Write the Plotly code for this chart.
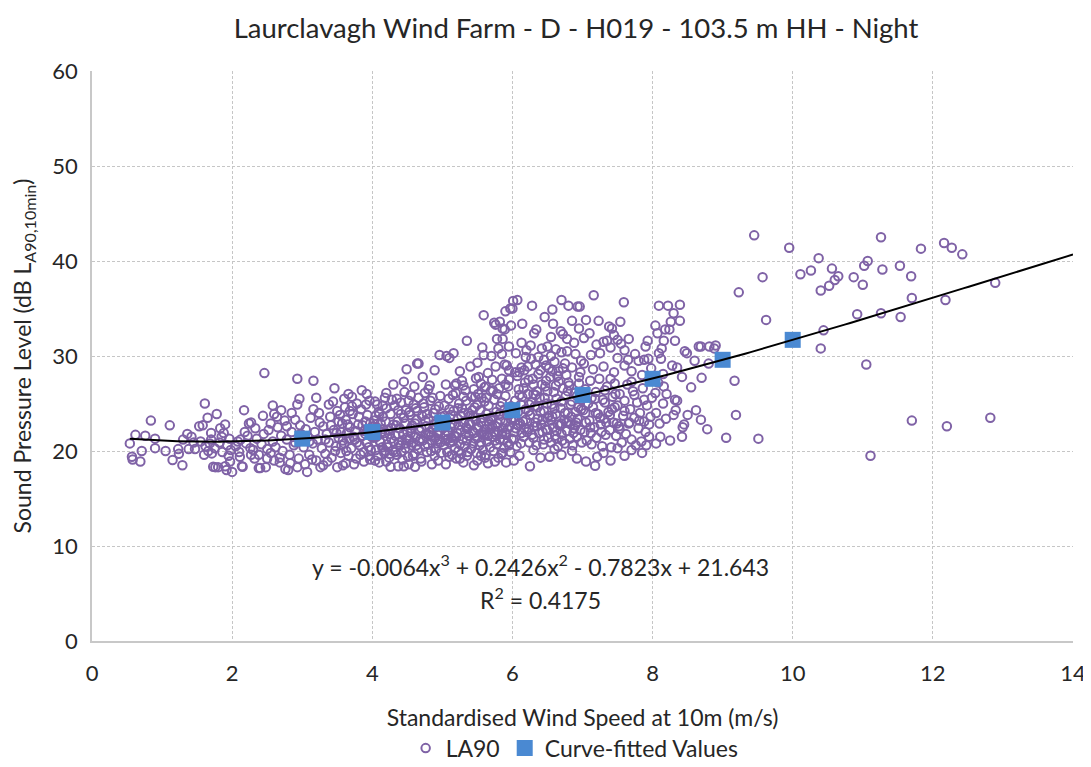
import plotly.graph_objects as go

# ---------------- data ----------------
band_0_2 = [(0.54,20.8),(0.57,19.4),(0.58,19.1),(0.62,21.7),(0.69,18.9),(0.71,20.0),(0.76,21.6),(0.84,23.2),
    (0.9,21.3),(0.9,20.3),(1.11,22.7),(1.15,19.05),(1.23,20.2),(1.24,19.7),(1.29,18.5),(1.36,21.8),(1.38,20.2),
    (1.42,21.5),(1.47,20.2),(1.53,22.6),(1.58,22.7),(1.61,25.0),(1.65,23.5),(1.7,21.9),(1.71,19.75),(1.73,18.35),
    (1.76,18.3),(1.78,23.9),(1.8,18.3),(1.83,22.4),(1.88,21.9),(1.9,18.4),(1.92,18.0),(1.97,18.9),(1.55,21.0),
    (1.62,20.5),(1.68,20.8),(1.75,20.3),(1.82,20.9),(1.86,19.9),(1.93,20.6),(1.96,21.3),(1.6,19.6),(1.45,20.9),
    (1.3,21.2),(1.05,20.0),(1.7,21.2),(1.85,21.5),(1.95,19.5),(1.9,22.8),(1.98,20.1),(1.66,20.0)]

band_2_3 = [(2.0,17.8),(2.11,19.4),(2.12,21.2),(2.14,18.4),(2.17,24.3),(2.24,22.9),(2.27,23.0),(2.26,20.3),
    (2.27,19.6),(2.33,22.4),(2.38,19.6),(2.38,18.2),(2.15,18.35),(2.4,18.2),(2.46,28.2),(2.44,23.7),(2.48,18.3),
    (2.58,24.8),(2.6,23.9),(2.64,23.6),(2.76,18.1),(2.8,18.0),(2.93,18.3),(2.93,27.6),(2.96,25.5),(2.93,24.9),
    (2.05,20.5),(2.08,21.0),(2.2,20.8),(2.22,21.6),(2.3,20.1),(2.35,21.3),(2.42,20.7),(2.45,21.8),(2.5,20.2),
    (2.52,22.2),(2.55,19.8),(2.58,21.0),(2.62,20.4),(2.65,22.5),(2.68,19.3),(2.7,21.6),(2.72,20.0),(2.75,23.2),
    (2.78,21.2),(2.82,19.6),(2.85,22.0),(2.88,20.6),(2.9,23.3),(2.95,19.2),(2.98,21.8),(2.1,19.9),(2.32,19.2),
    (2.55,22.9),(2.7,24.3),(2.85,24.0),(2.6,19.0),(2.78,22.6),(2.9,20.9),(2.18,22.0),(2.5,19.2),(2.68,18.8),
    (2.83,18.7),(2.97,22.7)]

band_3_4 = [(3.07,17.8),(3.16,27.4),(3.16,24.4),(3.26,18.3),(3.3,18.5),(3.38,24.9),(3.46,26.6),(3.5,18.3),
    (3.62,18.7),(3.66,26.0),(3.71,25.7),(3.71,24.7),(3.88,18.9),(3.93,23.8),(3.97,19.1),(3.02,20.4),(3.05,22.3),
    (3.08,21.5),(3.1,19.6),(3.12,23.5),(3.15,20.8),(3.18,22.0),(3.2,19.0),(3.22,21.2),(3.25,23.0),(3.28,20.3),
    (3.3,22.6),(3.33,19.7),(3.35,21.8),(3.38,20.9),(3.4,23.6),(3.42,19.3),(3.45,22.2),(3.48,20.5),(3.5,24.2),
    (3.52,21.4),(3.55,19.8),(3.57,22.9),(3.6,20.8),(3.62,23.3),(3.64,21.9),(3.66,19.5),(3.68,22.5),(3.7,20.3),
    (3.72,23.9),(3.75,21.2),(3.77,19.2),(3.8,22.8),(3.82,20.6),(3.84,24.4),(3.86,21.6),(3.88,19.9),(3.9,23.1),
    (3.92,20.9),(3.94,22.3),(3.96,25.3),(3.98,20.1),(3.04,18.6),(3.14,19.1),(3.24,24.0),(3.36,18.9),(3.44,25.2),
    (3.54,23.8),(3.58,18.5),(3.68,24.2),(3.74,18.6),(3.78,25.0),(3.86,22.7),(3.92,26.0),(3.99,21.5),(3.2,25.6),
    (3.6,25.5),(3.85,26.4),(3.1,21.0),(3.33,21.2),(3.47,20.0),(3.63,20.0),(3.78,20.9),(3.9,21.8),(3.96,19.5),
    (3.55,22.0)]

band_4_5 = [(4.04,25.2),(4.3,27.0),(4.45,27.3),(4.49,28.6),(4.6,26.8),(4.64,29.2),(4.66,29.2),(4.89,28.5),
    (4.96,30.1),(4.72,27.8),(4.8,26.5),(4.55,25.9),(4.2,26.1),(4.35,25.5),(4.15,24.8),(4.26,18.35),(4.37,18.4),
    (4.45,18.4),(4.61,18.35),(4.94,19.0),(4.1,18.8),(4.52,18.6),(4.7,18.9),(4.85,18.6),(4.2,18.9),
    (4.02,21.4),(4.03,23.2),(4.05,20.1),(4.06,22.5),(4.08,19.5),(4.09,24.1),(4.11,21.0),(4.12,22.9),(4.14,20.4),
    (4.15,23.6),(4.17,19.8),(4.18,21.9),(4.2,24.5),(4.21,20.7),(4.23,22.2),(4.24,19.3),(4.26,23.9),(4.27,21.3),
    (4.29,20.0),(4.3,22.8),(4.32,24.8),(4.33,21.6),(4.35,19.6),(4.36,23.1),(4.38,20.9),(4.39,22.4),(4.41,25.1),
    (4.42,19.9),(4.44,21.8),(4.45,23.5),(4.47,20.3),(4.48,24.3),(4.5,22.0),(4.51,19.4),(4.53,21.2),(4.54,23.8),
    (4.56,20.6),(4.57,22.7),(4.59,24.9),(4.6,19.7),(4.62,21.5),(4.63,23.3),(4.65,20.2),(4.66,25.6),(4.68,22.1),
    (4.69,19.2),(4.71,23.7),(4.72,21.1),(4.74,24.6),(4.75,20.5),(4.77,22.6),(4.78,19.9),(4.8,23.4),(4.81,21.7),
    (4.83,25.3),(4.84,20.0),(4.86,22.3),(4.87,24.0),(4.89,19.5),(4.9,21.4),(4.92,23.0),(4.93,20.8),(4.95,24.7),
    (4.96,22.0),(4.98,19.8),(4.99,23.6),(4.04,19.0),(4.13,22.0),(4.22,20.4),(4.31,21.0),(4.4,20.6),(4.49,21.4),
    (4.58,20.9),(4.67,21.0),(4.76,21.8),(4.85,21.1),(4.94,21.9),(4.07,24.9),(4.28,25.4),(4.46,26.2),(4.64,24.2),
    (4.82,26.9),(4.97,25.8),(4.19,20.0),(4.43,19.1),(4.61,22.9),(4.79,20.7),(4.88,22.8)]

band_5_6 = [(5.16,30.3),(5.35,31.6),(5.59,34.3),(5.57,30.9),(5.59,30.1),(5.5,29.3),(5.48,27.65),(5.76,33.3),
    (5.74,33.5),(5.82,33.6),(5.86,32.9),(5.89,32.8),(5.9,34.7),(5.78,31.8),(5.86,31.8),(5.8,30.8),(5.85,30.2),
    (5.76,28.9),(5.89,29.1),(5.92,29.0),(5.9,27.0),(5.71,27.5),(5.3,25.7),(5.06,30.0),(5.1,29.8),(5.25,28.4),
    (5.4,28.9),(5.65,28.2),(5.95,28.5),(5.98,33.2),(5.62,26.8),(5.05,27.0),(5.2,27.1),(5.45,26.5),(5.55,27.1),
    (5.7,30.0),(5.95,31.0),(5.97,35.0),(5.2,19.2),(5.61,19.3),(5.91,18.8),(5.05,18.6),(5.3,18.8),(5.45,18.5),
    (5.75,18.9),(5.35,19.5),(5.5,19.0),(5.8,19.3),(5.1,19.4),(5.65,18.7),
    (5.01,22.4),(5.02,20.6),(5.03,24.8),(5.04,21.7),(5.06,23.3),(5.07,19.9),(5.08,22.0),(5.09,25.5),(5.11,20.9),
    (5.12,23.8),(5.13,21.4),(5.14,19.6),(5.16,24.2),(5.17,22.7),(5.18,20.3),(5.19,26.1),(5.21,21.9),(5.22,23.4),
    (5.23,20.0),(5.24,25.0),(5.26,22.2),(5.27,19.7),(5.28,24.5),(5.29,21.2),(5.31,23.0),(5.32,20.5),(5.33,26.4),
    (5.34,22.5),(5.36,19.9),(5.37,24.0),(5.38,21.6),(5.39,23.7),(5.41,20.2),(5.42,25.7),(5.43,22.1),(5.44,20.8),
    (5.46,24.6),(5.47,21.3),(5.48,23.2),(5.49,19.8),(5.51,26.0),(5.52,22.6),(5.53,20.6),(5.54,24.3),(5.56,21.8),
    (5.57,23.5),(5.58,20.1),(5.6,25.2),(5.61,22.3),(5.62,19.6),(5.63,23.9),(5.64,21.0),(5.66,24.8),(5.67,22.8),
    (5.68,20.4),(5.69,26.3),(5.71,21.5),(5.72,23.6),(5.73,20.0),(5.74,25.4),(5.75,22.0),(5.77,24.1),(5.78,20.7),
    (5.79,22.9),(5.81,26.6),(5.82,21.2),(5.83,23.3),(5.84,19.7),(5.85,25.1),(5.87,22.4),(5.88,20.3),(5.89,24.4),
    (5.91,21.7),(5.92,23.8),(5.93,20.9),(5.94,26.8),(5.96,22.6),(5.97,19.9),(5.98,24.7),(5.99,21.3),
    (5.05,21.1),(5.15,21.0),(5.25,20.7),(5.35,21.1),(5.45,21.9),(5.55,20.9),(5.65,21.6),(5.75,21.1),(5.85,21.8),
    (5.95,20.6),(5.12,22.5),(5.4,22.8),(5.58,22.0),(5.8,22.1),(5.22,24.5),(5.5,24.9),(5.7,23.2),(5.9,23.0),
    (5.3,26.9),(5.6,26.7),(5.85,27.6),(5.18,26.9),(5.95,27.5)]

band_6_7 = [(6.0,35.0),(6.01,35.8),(6.07,35.9),(6.14,33.4),(6.13,31.4),(6.28,35.3),(6.46,34.1),(6.57,34.9),
    (6.7,35.9),(6.8,35.3),(6.93,35.2),(6.96,35.2),(6.31,32.4),(6.34,32.8),(6.26,31.1),(6.55,32.0),(6.5,31.0),
    (6.69,32.6),(6.72,32.3),(6.78,31.8),(6.95,32.9),(6.62,30.7),(6.78,30.5),(6.19,29.9),(6.27,29.7),(6.37,29.9),
    (6.33,29.1),(6.13,28.8),(6.04,28.3),(6.1,28.3),(6.23,27.5),(6.4,28.5),(6.45,29.6),(6.52,28.7),(6.6,29.4),
    (6.66,28.4),(6.75,29.2),(6.85,28.8),(6.9,30.2),(6.98,29.5),(6.88,31.4),(6.42,30.8),(6.2,30.6),(6.05,30.3),
    (6.58,33.4),(6.85,33.7),(6.64,27.9),(6.48,27.4),(6.8,27.2),(6.3,27.0),(6.95,27.8),(6.55,30.0),(6.7,30.4),
    (6.25,18.4),(6.53,19.4),(6.92,19.2),(6.1,19.5),(6.4,19.3),(6.7,19.6),(6.85,20.0),(6.6,20.2),(6.02,19.0),
    (6.3,20.1),
    (6.01,23.5),(6.02,21.2),(6.04,25.3),(6.05,22.4),(6.06,20.5),(6.08,24.1),(6.09,26.5),(6.11,22.9),(6.12,20.8),
    (6.14,25.7),(6.15,23.1),(6.16,21.5),(6.18,27.2),(6.19,24.4),(6.21,22.0),(6.22,26.0),(6.24,20.9),(6.25,23.8),
    (6.27,25.1),(6.28,21.7),(6.29,27.6),(6.31,22.6),(6.32,24.7),(6.34,20.6),(6.35,26.3),(6.36,23.4),(6.38,21.9),
    (6.39,25.6),(6.41,22.8),(6.42,27.0),(6.44,20.7),(6.45,24.2),(6.47,26.8),(6.48,22.3),(6.49,25.0),(6.51,21.4),
    (6.52,23.7),(6.54,27.8),(6.55,20.9),(6.56,24.9),(6.58,22.5),(6.59,26.2),(6.61,21.6),(6.62,23.9),(6.63,25.5),
    (6.65,20.5),(6.66,27.3),(6.68,22.7),(6.69,24.5),(6.71,21.1),(6.72,26.6),(6.74,23.3),(6.75,20.8),(6.76,25.8),
    (6.78,22.1),(6.79,24.0),(6.81,26.9),(6.82,21.3),(6.84,23.6),(6.85,25.2),(6.86,20.6),(6.88,22.4),(6.89,26.1),
    (6.91,23.0),(6.92,21.5),(6.94,24.6),(6.95,27.1),(6.97,22.2),(6.98,25.4),(6.99,20.9),
    (6.07,27.9),(6.17,28.5),(6.37,28.1),(6.57,28.4),(6.77,28.0),(6.97,28.3),(6.12,24.9),(6.33,23.0),(6.5,23.5),
    (6.7,22.9),(6.9,24.1),(6.03,22.0),(6.23,22.3),(6.43,22.0),(6.63,22.1),(6.83,22.8)]

band_7_8 = [(7.16,36.4),(7.59,35.65),(7.54,33.6),(7.42,32.9),(7.38,33.1),(7.45,32.2),(7.23,33.7),(7.66,31.8),
    (7.5,31.7),(7.55,31.3),(7.6,30.6),(7.05,33.8),(7.1,32.4),(7.02,31.9),(7.2,31.2),(7.3,31.5),(7.35,31.6),
    (7.4,30.9),(7.12,30.1),(7.25,30.3),(7.5,29.8),(7.65,29.6),(7.8,29.5),(7.9,31.0),(7.93,31.6),(7.94,29.7),
    (7.88,29.6),(7.75,30.2),(7.6,29.0),(7.7,28.4),(7.45,28.3),(7.3,28.9),(7.15,28.6),(7.02,29.2),(7.85,28.0),
    (7.98,28.7),(7.21,19.4),(7.18,18.45),(7.5,20.3),(7.91,20.6),(7.3,19.8),(7.7,20.1),(7.05,18.9),(7.4,19.0),
    (7.6,19.5),(7.85,19.8),
    (7.01,24.3),(7.03,22.0),(7.04,26.5),(7.06,21.1),(7.08,25.0),(7.1,23.2),(7.11,27.4),(7.13,20.7),(7.15,24.6),
    (7.17,22.5),(7.19,26.2),(7.2,21.4),(7.22,23.9),(7.24,27.6),(7.26,22.8),(7.28,20.5),(7.29,25.4),(7.31,23.4),
    (7.33,21.7),(7.35,26.8),(7.37,24.1),(7.39,22.2),(7.41,20.4),(7.43,25.7),(7.44,23.0),(7.46,27.1),(7.48,21.6),
    (7.5,24.8),(7.52,22.6),(7.53,26.0),(7.56,20.9),(7.58,23.7),(7.6,25.3),(7.62,21.8),(7.64,27.0),(7.66,22.9),
    (7.68,24.4),(7.7,21.2),(7.72,26.3),(7.74,23.5),(7.76,20.6),(7.78,25.1),(7.8,22.4),(7.82,24.0),(7.84,21.0),
    (7.86,26.6),(7.88,23.1),(7.9,22.0),(7.92,24.8),(7.95,21.5),(7.97,23.6),(7.99,25.6)]

band_8_9 = [(8.09,35.3),(8.22,35.3),(8.39,35.4),(8.3,34.5),(8.26,33.6),(8.39,33.7),(8.04,33.2),(8.24,32.8),
    (8.18,32.8),(8.07,32.4),(8.16,31.6),(8.32,31.6),(8.13,30.8),(8.09,30.3),(8.49,30.3),(8.46,30.5),(8.66,31.0),
    (8.81,31.0),(8.88,30.8),(8.69,31.0),(8.8,29.2),(8.42,27.8),(8.7,27.7),(8.15,28.1),(8.16,26.8),(8.04,26.1),
    (8.32,25.4),(8.35,25.3),(8.15,25.0),(8.33,24.3),(8.5,23.8),(8.62,24.3),(8.69,23.3),(8.78,22.3),(8.43,22.5),
    (8.45,22.8),(8.42,21.5),(8.25,21.1),(8.11,21.5),(8.19,23.4),(8.1,22.9),(8.05,24.0),(8.2,26.0),(8.08,27.2),
    (8.28,29.0),(8.12,29.7),(8.05,20.8),(8.3,23.8),(8.55,26.7),(8.6,29.5),(8.35,28.8),(8.9,31.1)]

band_9_13 = [(9.05,21.4),(9.17,27.4),(9.19,23.8),(9.23,36.7),(9.45,42.7),(9.51,21.3),(9.57,38.3),(9.62,33.8),
    (9.95,41.4),(10.11,38.6),(10.26,39.0),(10.37,40.3),(10.4,36.9),(10.52,37.4),(10.56,39.2),(10.6,38.0),
    (10.65,38.4),(10.44,32.7),(10.4,30.8),(10.87,38.3),(11.02,39.5),(11.07,40.0),(11.0,37.5),(11.26,42.5),
    (11.28,39.1),(11.53,39.5),(11.69,38.4),(11.7,36.1),(10.92,34.4),(11.26,34.5),(11.54,34.1),(11.83,41.3),
    (12.16,41.9),(12.27,41.4),(12.42,40.7),(12.18,35.9),(12.89,37.7),(11.05,29.1),(11.7,23.2),(12.2,22.6),
    (12.82,23.5),(11.11,19.5)]

# extra points in the dense core (3.5 - 7.5 m/s)
band_core = [(3.52,23.1),(3.58,21.1),(3.65,22.8),(3.73,21.5),(3.81,23.6),(3.89,22.1),(3.95,20.4),(3.61,24.6),
    (4.01,22.6),(4.06,21.5),(4.1,23.9),(4.16,22.3),(4.25,21.8),(4.34,22.7),(4.42,21.1),(4.47,22.9),(4.55,21.9),
    (4.63,20.6),(4.7,22.4),(4.78,23.9),(4.84,21.6),(4.91,22.5),(4.97,20.9),(4.37,24.3),(4.53,24.1),(4.73,25.0),
    (4.86,25.6),(4.25,19.7),(4.58,19.5),(4.91,20.2),
    (5.03,23.7),(5.08,21.3),(5.14,22.9),(5.2,21.5),(5.27,23.7),(5.33,21.8),(5.38,22.9),(5.44,23.6),(5.5,21.4),
    (5.55,23.0),(5.6,21.7),(5.66,23.1),(5.71,22.6),(5.76,21.7),(5.82,23.9),(5.88,21.2),(5.93,22.3),(5.98,23.3),
    (5.15,25.9),(5.34,25.3),(5.47,25.7),(5.63,25.6),(5.78,26.0),(5.9,25.8),(5.25,19.2),(5.55,19.5),(5.86,19.8),
    (6.03,24.0),(6.08,22.7),(6.13,21.9),(6.19,23.3),(6.24,24.9),(6.3,21.4),(6.35,22.6),(6.4,24.1),(6.45,21.2),
    (6.5,22.2),(6.55,23.2),(6.6,24.5),(6.65,22.8),(6.7,21.8),(6.75,24.0),(6.8,23.1),(6.87,21.9),(6.93,23.4),
    (6.98,24.4),(6.16,26.6),(6.33,25.9),(6.46,25.6),(6.62,26.9),(6.79,26.3),(6.92,25.8),
    (7.05,23.0),(7.12,21.9),(7.19,24.0),(7.27,22.0),(7.34,23.0),(7.42,24.4),(7.49,22.9),(7.13,25.6),(7.32,25.1),
    (7.47,26.0)]

band_core_2 = [(3.41,22.7),(3.49,21.9),(3.56,20.6),(3.67,21.3),(3.76,22.1),(3.83,19.6),(3.91,24.9),(3.97,22.9),
    (4.05,23.7),(4.12,20.9),(4.19,23.1),(4.27,22.4),(4.33,19.9),(4.41,23.9),(4.48,20.8),(4.55,22.4),(4.62,24.5),
    (4.69,21.3),(4.76,23.2),(4.82,22.0),(4.9,24.4),(4.96,21.2),(4.18,25.6),(4.52,25.3),(4.75,26.1),
    (5.04,22.9),(5.1,24.4),(5.17,21.6),(5.23,22.7),(5.3,24.0),(5.36,22.3),(5.43,24.3),(5.5,22.4),(5.56,25.6),
    (5.63,21.8),(5.69,23.4),(5.76,22.6),(5.83,24.7),(5.9,21.9),(5.96,23.9),(5.28,27.4),(5.52,27.8),(5.72,26.4),
    (6.04,23.2),(6.1,25.9),(6.17,22.4),(6.23,24.2),(6.3,26.0),(6.36,24.6),(6.43,23.3),(6.5,26.3),(6.57,23.6),
    (6.63,21.3),(6.7,25.2),(6.77,23.0),(6.83,24.9),(6.9,22.7),(6.96,26.2),(6.22,28.9),(6.48,29.0),(6.72,28.7),
    (7.04,24.0),(7.11,22.5),(7.18,25.5),(7.25,23.5),(7.32,26.4),(7.39,23.8),(7.46,24.6),(7.53,22.3),(7.6,24.2),
    (7.67,23.0),(7.74,25.9),(7.81,23.2),(7.88,25.4),(7.95,22.8),(7.4,27.6),(7.7,27.3)]

fitted_ws = [3, 4, 5, 6, 7, 8, 9, 10]
fitted_db = [21.3, 22.0, 23.0, 24.3, 25.9, 27.6, 29.6, 31.7]

# polynomial trendline coefficients shown on the chart (x^3, x^2, x, const)
trend_coef = [-0.0064, 0.2426, -0.7823, 21.643]
trend_x_range = [0.54, 14.0]

title_text = "Laurclavagh Wind Farm - D - H019 - 103.5 m HH - Night"
x_title = "Standardised Wind Speed at 10m (m/s)"
y_title = "Sound Pressure Level (dB L<sub>A90,10min</sub>)"
eq_text = "y = -0.0064x<sup>3</sup> + 0.2426x<sup>2</sup> - 0.7823x + 21.643"
r2_text = "R<sup>2</sup> = 0.4175"

# ---------------- build ----------------
all_pts = (band_0_2 + band_2_3 + band_3_4 + band_4_5 + band_5_6 + band_6_7 + band_7_8 + band_8_9
           + band_9_13 + band_core + band_core_2)
ws = [p[0] for p in all_pts]
la90 = [p[1] for p in all_pts]

n = 200
tx = [trend_x_range[0] + (trend_x_range[1] - trend_x_range[0]) * i / (n - 1) for i in range(n)]
a, b, c, d = trend_coef
ty = [a * x**3 + b * x**2 + c * x + d for x in tx]

FONT = "Lato, 'Open Sans', sans-serif"
TXT = "#262626"
GRID = "#C6C6C6"

# the page adds an 8px body margin, so the figure is sized to fit the window
W, H = 1083, 759

fig = go.Figure()
fig.add_trace(go.Scatter(
    x=ws, y=la90, mode="markers", name="LA90",
    marker=dict(symbol="circle-open", size=8.5, color="#7F62A6", line=dict(width=2, color="#7F62A6")),
))
fig.add_trace(go.Scatter(
    x=fitted_ws, y=fitted_db, mode="markers", name="Curve-fitted Values",
    marker=dict(symbol="square", size=16, color="#4A89D2", line=dict(width=0)),
))
fig.add_trace(go.Scatter(
    x=tx, y=ty, mode="lines", showlegend=False, hoverinfo="skip",
    line=dict(color="black", width=2),
))

fig.add_annotation(x=6.4, y=8.0, xref="x", yref="y", text=eq_text, showarrow=False,
                   font=dict(family=FONT, size=23, color=TXT))
fig.add_annotation(x=6.4, y=4.5, xref="x", yref="y", text=r2_text, showarrow=False,
                   font=dict(family=FONT, size=23, color=TXT))

fig.update_layout(
    width=W, height=H,
    paper_bgcolor="white", plot_bgcolor="white",
    margin=dict(l=84, r=18, t=63, b=126, autoexpand=False),
    font=dict(family=FONT, size=18, color=TXT),
    title=dict(text=title_text, x=0.5245, xanchor="center", y=0.9736, yanchor="middle",
               font=dict(family=FONT, size=27.5, color=TXT)),
    legend=dict(orientation="h", x=0.492, xanchor="center", y=-0.188, yanchor="middle",
                font=dict(family=FONT, size=23, color=TXT), itemsizing="trace"),
    showlegend=True,
)
fig.update_xaxes(range=[0, 14], dtick=2, tick0=0, showgrid=True, gridcolor=GRID, griddash="3px,2px",
                 gridwidth=1, showline=True, linecolor="#C8C8C8", linewidth=1.5, zeroline=False,
                 ticks="", tickfont=dict(size=22, color=TXT), ticklabelstandoff=12, automargin=False,
                 title=dict(text=x_title, font=dict(size=23, color=TXT), standoff=25))
fig.update_yaxes(range=[0, 60], dtick=10, tick0=0, showgrid=True, gridcolor=GRID, griddash="3px,2px",
                 gridwidth=1, showline=True, linecolor="#C8C8C8", linewidth=1.5, zeroline=False,
                 ticks="", tickfont=dict(size=22, color=TXT), ticklabelstandoff=8, automargin=False,
                 title=dict(text=y_title, font=dict(size=23, color=TXT), standoff=17))

fig.write_html("out.html")
